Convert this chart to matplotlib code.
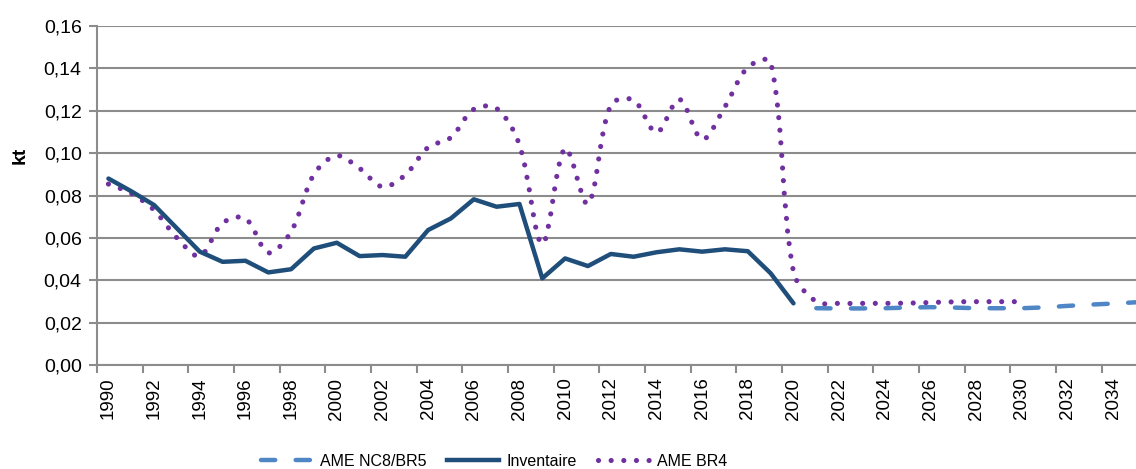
import numpy as np
import matplotlib
matplotlib.use("Agg")
import matplotlib.pyplot as plt
from matplotlib.path import Path
from matplotlib.patches import PathPatch
from matplotlib.lines import Line2D
from matplotlib.ticker import FuncFormatter

plt.rcParams['font.family'] = ['Liberation Sans', 'DejaVu Sans']

# Inventaire (1990-2020)
years_inv = list(range(1990, 2021))
inventaire = [0.088, 0.082, 0.0755, 0.0645, 0.0535, 0.0487, 0.0492, 0.0437, 0.0452, 0.055,
              0.0577, 0.0514, 0.0519, 0.0511, 0.0637, 0.0692, 0.0782, 0.0747, 0.076, 0.0409,
              0.0503, 0.0467, 0.0524, 0.0511, 0.0532, 0.0546, 0.0535, 0.0546, 0.0537, 0.0433,
              0.0291]

# AME BR4 (1990-2030)
years_br4 = list(range(1990, 2031))
ame_br4 = [0.0854, 0.081, 0.0731, 0.060, 0.0514, 0.067, 0.0692, 0.053, 0.0629, 0.090,
           0.0988, 0.0928, 0.0841, 0.0897, 0.1027, 0.1074, 0.1207, 0.1211, 0.1038, 0.0571,
           0.1023, 0.076, 0.1227, 0.125, 0.1097, 0.1254, 0.1065, 0.1219, 0.1405, 0.143,
           0.044, 0.0299, 0.0291, 0.0291, 0.0291, 0.0292, 0.0295, 0.0298, 0.0299, 0.0299,
           0.0299]

# AME NC8/BR5 (2021-2035)
years_nc8 = list(range(2021, 2036))
ame_nc8 = [0.0268, 0.0267, 0.0267, 0.0268, 0.0271, 0.0273, 0.0271, 0.0268, 0.0268, 0.0268,
           0.0272, 0.0279, 0.0285, 0.029, 0.0296]

y_ticks = [0.00, 0.02, 0.04, 0.06, 0.08, 0.10, 0.12, 0.14, 0.16]
x_labels = list(range(1990, 2035, 2))

col_inv = '#1F4E7A'
col_br4 = '#7030A0'
col_nc8 = '#4F86C6'
col_grid = '#8C8C8C'


def smooth_path(ax, xs, ys, t=1/3):
    # smoothed line like Excel: bezier segments, control arms scaled by segment lengths (pixels)
    pts = ax.transData.transform(np.column_stack([xs, ys]).astype(float))
    n = len(pts)
    P = lambda i: pts[min(max(i, 0), n - 1)]
    dist = lambda i, j: np.hypot(*(P(j) - P(i)))
    verts = [pts[0]]
    codes = [Path.MOVETO]
    for i in range(n - 1):
        d0, d1, d2 = dist(i - 1, i), dist(i, i + 1), dist(i + 1, i + 2)
        f1 = d1 / (d0 + d1) if d0 + d1 > 0 else 0
        f2 = d1 / (d1 + d2) if d1 + d2 > 0 else 0
        c1 = P(i) + (P(i + 1) - P(i - 1)) * f1 * t
        c2 = P(i + 1) - (P(i + 2) - P(i)) * f2 * t
        verts += [c1, c2, P(i + 1)]
        codes += [Path.CURVE4] * 3
    verts = ax.transData.inverted().transform(np.array(verts))
    return Path(verts, codes)


fig = plt.figure(figsize=(11.36, 4.69), dpi=100)
ax = fig.add_axes([97 / 1136, 1 - 365 / 469, 1 - 97 / 1136, (365 - 26) / 469])

ax.set_xlim(1989.5, 2035.0)
ax.set_ylim(0, 0.16)

ax.set_yticks(y_ticks)
ax.yaxis.set_major_formatter(FuncFormatter(lambda v, p: f"{v:.2f}".replace('.', ',')))
ax.grid(axis='y', color=col_grid, lw=1.5)
ax.set_axisbelow(True)

# boundary ticks every 2 years, labels on category centres
ax.set_xticks(np.arange(1989.5, 2035.0, 2))
ax.set_xticklabels([])
ax.set_xticks(x_labels, minor=True)
ax.set_xticklabels([str(y) for y in x_labels], minor=True, rotation=90, fontsize=13.5)
ax.tick_params(axis='x', which='major', length=6, width=1.5, color=col_grid)
ax.tick_params(axis='x', which='minor', length=0, pad=9)
ax.tick_params(axis='y', length=6, width=1.5, color=col_grid, labelsize=14, pad=5)

for s in ['top', 'right']:
    ax.spines[s].set_visible(False)
for s in ['left', 'bottom']:
    ax.spines[s].set_color(col_grid)
    ax.spines[s].set_linewidth(1.5)

ax.plot(years_nc8, ame_nc8, color=col_nc8, lw=3.2, linestyle=(0, (3.2, 4.6)),
        dash_capstyle='round', clip_on=False)
ax.plot(years_inv, inventaire, color=col_inv, lw=3.2, solid_capstyle='round',
        solid_joinstyle='round')
ax.add_patch(PathPatch(smooth_path(ax, years_br4, ame_br4), fill=False, edgecolor=col_br4,
                       lw=3.7, linestyle=(0, (0.01, 2.45)), capstyle='round'))

fig.text(20 / 1136, 1 - 155 / 469, 'kt', rotation=90, ha='center', va='center',
         fontsize=14, fontweight='bold')

handles = [
    Line2D([], [], color=col_nc8, lw=3.2, linestyle=(0, (3.2, 4.6)), dash_capstyle='round'),
    Line2D([], [], color=col_inv, lw=3.2),
    Line2D([], [], color=col_br4, lw=3.7, linestyle=(0, (0.01, 2.45)), dash_capstyle='round'),
]
fig.legend(handles, ['AME NC8/BR5', 'Inventaire', 'AME BR4'], loc='center',
           bbox_to_anchor=(494 / 1136, 1 - 461 / 469), ncol=3, frameon=False,
           fontsize=11.5, handlelength=3.2, handletextpad=0.5, columnspacing=1.3)

fig.savefig('out.png', dpi=100)
